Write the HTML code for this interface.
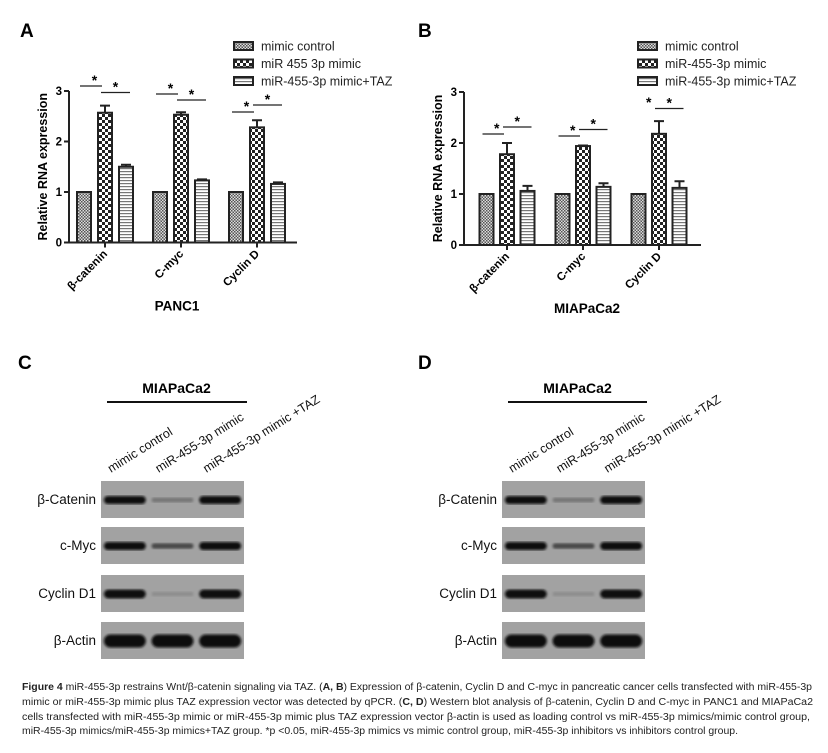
<!DOCTYPE html>
<html><head><meta charset="utf-8">
<style>
body{margin:0;background:#fff;width:828px;height:753px;overflow:hidden;font-family:"Liberation Sans",sans-serif}
.cap{position:absolute;left:22px;top:681px;width:800px;font-family:"Liberation Sans Narrow","Liberation Sans",sans-serif;font-size:10px;line-height:14.8px;color:#222}
.cap div{white-space:nowrap;transform-origin:0 0;display:inline-block}
</style></head><body>
<svg id="fig" width="828" height="680" style="position:absolute;left:0;top:0">
<defs>
<pattern id="pCtrl" width="3" height="3" patternUnits="userSpaceOnUse"><rect width="3" height="3" fill="#ddd"/><rect width="1.5" height="1.5" fill="#555"/><rect x="1.5" y="1.5" width="1.5" height="1.5" fill="#555"/></pattern>
<pattern id="pMim" width="6" height="6" patternUnits="userSpaceOnUse"><rect width="6" height="6" fill="#fff"/><rect width="3" height="3" fill="#222"/><rect x="3" y="3" width="3" height="3" fill="#222"/></pattern>
<pattern id="pTaz" width="4" height="3" patternUnits="userSpaceOnUse"><rect width="4" height="3" fill="#fff"/><rect width="4" height="1.2" fill="#777"/></pattern>
<filter id="blur1"><feGaussianBlur stdDeviation="1.2"/></filter>
</defs>
<g id="charts"></g>
<g id="blots"></g>
</svg>
<div class="cap">
<div data-w="790"><b>Figure 4</b> miR-455-3p restrains Wnt/β-catenin signaling via TAZ. (<b>A, B</b>) Expression of β-catenin, Cyclin D and C-myc in pancreatic cancer cells transfected with miR-455-3p</div><br>
<div data-w="791">mimic or miR-455-3p mimic plus TAZ expression vector was detected by qPCR. (<b>C, D</b>) Western blot analysis of β-catenin, Cyclin D and C-myc in PANC1 and MIAPaCa2</div><br>
<div data-w="788">cells transfected with miR-455-3p mimic or miR-455-3p mimic plus TAZ expression vector β-actin is used as loading control vs miR-455-3p mimics/mimic control group,</div><br>
<div data-w="716">miR-455-3p mimics/miR-455-3p mimics+TAZ group. *p &lt;0.05, miR-455-3p mimics vs mimic control group, miR-455-3p inhibitors vs inhibitors control group.</div>
</div>
<script>
const categories = ["β-catenin","C-myc","Cyclin D"];
const yTicks = [0,1,2,3];
const seriesNamesA = ["mimic control","miR 455 3p mimic","miR-455-3p mimic+TAZ"];
const seriesNamesB = ["mimic control","miR-455-3p mimic","miR-455-3p mimic+TAZ"];
const panc1Control = [1,1,1];
const panc1Mimic = [2.57,2.53,2.28];
const panc1Taz = [1.50,1.23,1.16];
const panc1MimicErr = [0.14,0.05,0.14];
const panc1TazErr = [0.04,0.02,0.03];
const miaControl = [1,1,1];
const miaMimic = [1.78,1.94,2.18];
const miaTaz = [1.06,1.14,1.12];
const miaMimicErr = [0.22,0.01,0.25];
const miaTazErr = [0.10,0.07,0.13];
const blotLanes = ["mimic control","miR-455-3p mimic","miR-455-3p mimic +TAZ"];
const blotProteins = ["β-Catenin","c-Myc","Cyclin D1","β-Actin"];
const bandIntensityC = [[0.95,0.25,0.95],[0.95,0.5,0.95],[0.9,0.12,0.9],[1,1,1]];
const bandIntensityD = [[0.95,0.25,0.95],[0.95,0.5,0.95],[0.9,0.12,0.9],[1,1,1]];

const NS="http://www.w3.org/2000/svg";
function mk(tag,attrs,parent,text){const e=document.createElementNS(NS,tag);for(const k in attrs)e.setAttribute(k,attrs[k]);if(text!==undefined)e.textContent=text;parent.appendChild(e);return e;}
const charts=document.getElementById('charts');

function drawChart(o){
  const g=mk('g',{},charts);
  
  
  const y=v=>o.y0-(v/3)*(o.y0-o.y3);
  const xc=i=>o.c0+i*o.gap;
  const lbl=mk('text',{x:o.lx,y:o.ly,'font-size':19,'font-weight':'bold'},g,o.letter);
  
  
  const ya=mk('line',{x1:o.ax0,y1:o.y3,x2:o.ax0,y2:o.y0,stroke:'#222','stroke-width':2},g);
  
  
  const xa=mk('line',{x1:o.ax0,y1:o.y0,x2:o.ax1,y2:o.y0,stroke:'#222','stroke-width':2},g);
  
  
  yTicks.forEach(t=>{
    mk('line',{x1:o.ax0-5,y1:y(t),x2:o.ax0,y2:y(t),stroke:'#222','stroke-width':2},g);
    const tl=mk('text',{x:o.ax0-7,y:y(t)+4,'font-size':11.5,'font-weight':'bold','text-anchor':'end'},g,t);
    
    
  });
  const yt=mk('text',{x:0,y:0,'font-size':12.5,'font-weight':'bold','text-anchor':'middle',transform:`translate(${o.ax0-22},${(o.y0+o.y3)/2}) rotate(-90)`},g,'Relative RNA expression');
  
  
  const fills=['url(#pCtrl)','url(#pMim)','url(#pTaz)'];
  const vals=[o.ctrl,o.mim,o.taz];
  const errs=[null,o.mimErr,o.tazErr];
  categories.forEach((c,i)=>{
    const cx=xc(i);
    mk('line',{x1:cx,y1:o.y0,x2:cx,y2:o.y0+5,stroke:'#222','stroke-width':2},g);
    const cl=mk('text',{x:0,y:0,'font-size':11.5,'font-weight':'bold','text-anchor':'end',transform:`translate(${cx+3},${o.y0+12}) rotate(-45)`},g,c);
    
    
    for(let s=0;s<3;s++){
      const bx=cx+(s-1)*o.bs-o.bw/2, v=vals[s][i];
      if(errs[s]){
        const e=errs[s][i];
        const el=mk('path',{d:`M${bx+o.bw/2},${y(v)} V${y(v+e)} M${bx+2},${y(v+e)} H${bx+o.bw-2}`,stroke:'#222','stroke-width':2,fill:'none'},g);
        
        
      }
      const r=mk('rect',{x:bx,y:y(v),width:o.bw,height:o.y0-y(v),fill:fills[s],stroke:'#222','stroke-width':2},g);
      
      
    }
    o.sig[i].forEach((h,k)=>{
      const x1=cx+(k-1)*o.bs, x2=cx+k*o.bs;
      const sx=k===0?cx-o.bs/2:cx+o.bs/2;
      if(h.line){mk('line',{x1:x1-o.bw/2+3,y1:h.y,x2:x2+(k===0?-3:o.bw/2-3),y2:h.y,stroke:'#222','stroke-width':1.3},g);}
      const st=mk('text',{x:sx,y:h.y-1,'font-size':14,'font-weight':'bold','text-anchor':'middle'},g,'*');
      
      
    });
  });
  o.names.forEach((n,s)=>{
    const ry=46+s*17.5;
    const sw=mk('rect',{x:o.legx,y:ry-4,width:19,height:8,fill:fills[s],stroke:'#222','stroke-width':2},g);
    
    
    const lt=mk('text',{x:o.legx+27,y:ry+4.5,'font-size':12.5,fill:'#222'},g,n);
    
    
  });
  const ct=mk('text',{x:o.titleX,y:o.y0+68,'font-size':13.5,'font-weight':'bold','text-anchor':'middle'},g,o.title);
  
  
}

drawChart({name:'chart-a-panc1',letter:'A',lx:20,ly:37,y0:242.5,y3:91,ax0:69,ax1:297,c0:105,gap:76,bw:14,bs:21,
  ctrl:panc1Control,mim:panc1Mimic,taz:panc1Taz,mimErr:panc1MimicErr,tazErr:panc1TazErr,names:seriesNamesA,legx:234,titleX:177,title:'PANC1',
  sig:[[{y:86,line:1},{y:92.5,line:1}],[{y:94,line:1},{y:100,line:1}],[{y:112,line:1},{y:105,line:1}]]});
drawChart({name:'chart-b-miapaca2',letter:'B',lx:418,ly:37,y0:245,y3:92,ax0:464,ax1:701,c0:507,gap:76,bw:14,bs:20.5,
  ctrl:miaControl,mim:miaMimic,taz:miaTaz,mimErr:miaMimicErr,tazErr:miaTazErr,names:seriesNamesB,legx:638,titleX:587,title:'MIAPaCa2',
  sig:[[{y:134,line:1},{y:127,line:1}],[{y:136,line:1},{y:129.5,line:1}],[{y:108,line:0},{y:108.5,line:1}]]});

const blots=document.getElementById('blots');
function drawBlot(o){
  const g=mk('g',{},blots);
  
  
  const pl=mk('text',{x:o.lx,y:369,'font-size':19,'font-weight':'bold'},g,o.letter);
  
  
  const t=mk('text',{x:(o.bx0+o.bx1)/2+4,y:393,'font-size':14,'font-weight':'bold','text-anchor':'middle'},g,'MIAPaCa2');
  
  
  mk('line',{x1:o.lineX0,y1:402,x2:o.lineX1,y2:402,stroke:'#111','stroke-width':2},g);
  const lw=(o.bx1-o.bx0)/3;
  blotLanes.forEach((l,i)=>{
    const lt=mk('text',{x:0,y:0,'font-size':12.5,fill:'#111',transform:`translate(${o.bx0+lw*i+10},${473}) rotate(-32)`},g,l);
    
    
  });
  const rows=[481,527,575,622];
  blotProteins.forEach((p,r)=>{
    const ry=rows[r];
    const bg=mk('rect',{x:o.bx0,y:ry,width:o.bx1-o.bx0,height:37,fill:'#a2a2a2'},g);
    
    
    const pt=mk('text',{x:o.bx0-5,y:ry+23,'font-size':13.5,fill:'#111','text-anchor':'end'},g,p);
    
    
    o.intens[r].forEach((v,i)=>{
      const cx=o.bx0+lw*(i+0.5);
      const h=r===3?13:(v>0.6?(r===2?9:8):4+3*v);
      const b=mk('rect',{x:cx-lw*0.44,y:ry+19-h/2,width:lw*0.88,height:h,rx:h/2,fill:`rgba(10,10,10,${Math.min(1,v*1.1)})`,filter:'url(#blur1)'},g);
      
      
    });
  });
}
drawBlot({name:'western-blot-c',letter:'C',lx:18,bx0:101,bx1:244,lineX0:107,lineX1:247,intens:bandIntensityC});
drawBlot({name:'western-blot-d',letter:'D',lx:418,bx0:502,bx1:645,lineX0:508,lineX1:647,intens:bandIntensityD});

document.querySelectorAll('.cap div').forEach(d=>{
  const w=d.getBoundingClientRect().width, t=+d.getAttribute('data-w');
  if(w>0) d.style.transform='scaleX('+(t/w)+')';
});
</script>
</body></html>
